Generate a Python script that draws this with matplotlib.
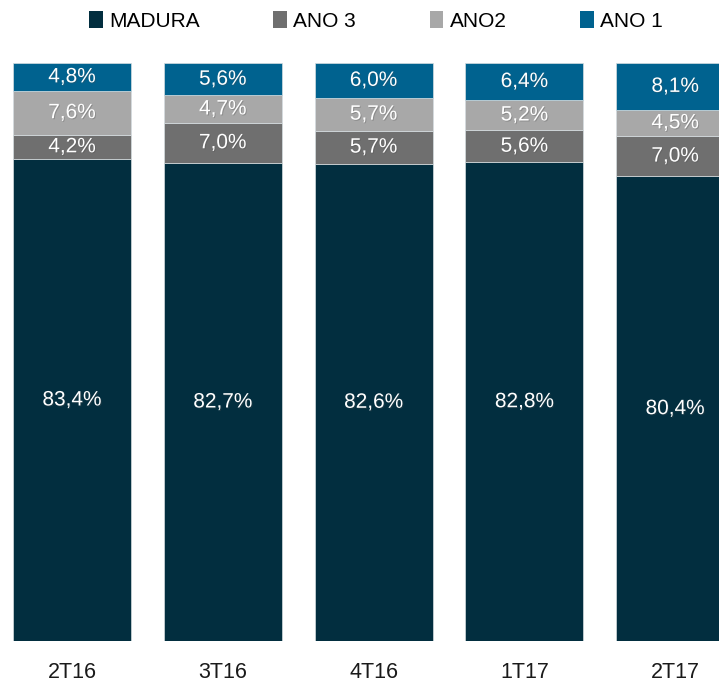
import matplotlib
matplotlib.use('Agg')
import matplotlib.pyplot as plt
import matplotlib.patheffects as pe
from matplotlib.patches import Patch
import numpy as np

plt.rcParams['font.family'] = ['Liberation Sans', 'DejaVu Sans']

# dados
periodos = ['2T16', '3T16', '4T16', '1T17', '2T17']
madura = [83.4, 82.7, 82.6, 82.8, 80.4]
ano3 = [4.2, 7.0, 5.7, 5.6, 7.0]
ano2 = [7.6, 4.7, 5.7, 5.2, 4.5]
ano1 = [4.8, 5.6, 6.0, 6.4, 8.1]

series = [('MADURA', madura, '#022e3f'),
          ('ANO 3', ano3, '#6f6f6f'),
          ('ANO2', ano2, '#a8a8a8'),
          ('ANO 1', ano1, '#00628f')]

fig = plt.figure(figsize=(7.19, 6.90), dpi=100)
ax = fig.add_axes([0, 49 / 690, 1, 578 / 690])

x = np.arange(len(periodos))
bottom = np.zeros(len(periodos))
for nome, vals, cor in series:
    vals = np.array(vals)
    ax.bar(x, vals, bottom=bottom, width=0.782, color=cor, edgecolor='#d5dde0', linewidth=0.5, label=nome)
    for xi, b, v in zip(x, bottom, vals):
        ax.text(xi, b + v / 2, f'{v:.1f}%'.replace('.', ','), ha='center', va='center',
                color='white', fontsize=15, path_effects=[pe.withSimplePatchShadow(offset=(0.7, -0.7), alpha=0.3)])
    bottom += vals

ax.set_xlim(-72 / 150.8, (719 - 72) / 150.8)
ax.set_ylim(0, 100)
ax.set_yticks([])
ax.set_xticks(x)
ax.set_xticklabels(periodos, fontsize=15.5, color='#1a1a1a')
ax.tick_params(axis='x', length=0, pad=15)
for s in ax.spines.values():
    s.set_visible(False)

handles = [Patch(facecolor=c, edgecolor='none') for _, _, c in series]
fig.legend(handles, [n for n, _, _ in series], loc='center', bbox_to_anchor=(376 / 719, 1 - 21 / 690),
           ncol=4, frameon=False, fontsize=15, handlelength=0.65, handleheight=0.85,
           handletextpad=0.3, columnspacing=3.55)

fig.savefig('out.png', dpi=100)
